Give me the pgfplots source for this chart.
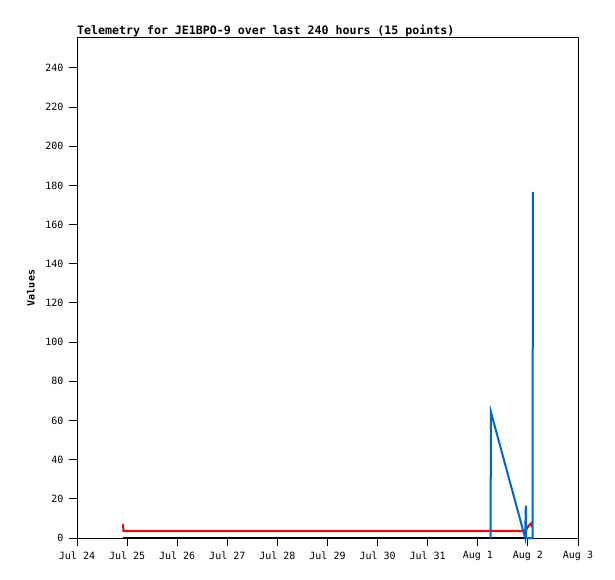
\documentclass[border=0pt]{standalone}
\usepackage{pgfplots}
\pgfplotsset{compat=1.18}
\usepackage{fontspec}
\setmainfont{DejaVu Sans Mono}
\definecolor{telblue}{HTML}{0066CC}
\definecolor{telred}{HTML}{FF0000}
\begin{document}
\begin{tikzpicture}[x=1pt,y=1pt]
\useasboundingbox[fill=white] (0,0) rectangle (615,579);
\begin{axis}[
  at={(77pt,41pt)}, anchor=south west,
  scale only axis, width=501pt, height=500pt,
  xmin=0, xmax=10, ymin=0, ymax=255.3,
  xtick={0,...,10},
  xticklabels={Jul 24,Jul 25,Jul 26,Jul 27,Jul 28,Jul 29,Jul 30,Jul 31,Aug 1,Aug 2,Aug 3},
  ytick={0,20,...,240},
  tick align=outside, major tick length=8pt,
  xtick pos=left, ytick pos=left,
  axis line style={line width=1pt},
  tick style={line width=1pt,black},
  /pgf/number format/assume math mode=true,
  ticklabel style={font=\fontsize{10}{12}\selectfont},
  xticklabel style={yshift=-2pt},
  yticklabel style={xshift=-2pt},
  ylabel={\textbf{Values}}, ylabel style={font=\fontsize{10.5}{12}\selectfont},
  every axis y label/.style={at={(axis description cs:-0.0918,0.5)}, rotate=90, anchor=center},
  clip=false,
]
\addplot[black, line width=2pt] coordinates {(0.92,0) (8.26,0) (8.95,0) (9.10,0)};
\addplot[telred, line width=2pt] coordinates {(0.92,7.2) (0.925,3.7) (8.955,3.7) (9.02,6.5) (9.07,7.6) (9.075,5.5)};
\addplot[telblue, line width=2pt] coordinates {(8.255,0) (8.262,64.3) (8.945,0) (8.958,16.5) (8.965,0) (9.095,0) (9.098,176.7)};
\end{axis}
\node[anchor=base west, inner sep=0pt, font=\bfseries\fontsize{11.6}{13}\selectfont] at (77,544) {Telemetry for JE1BPO-9 over last 240 hours (15 points)};
\end{tikzpicture}
\end{document}
